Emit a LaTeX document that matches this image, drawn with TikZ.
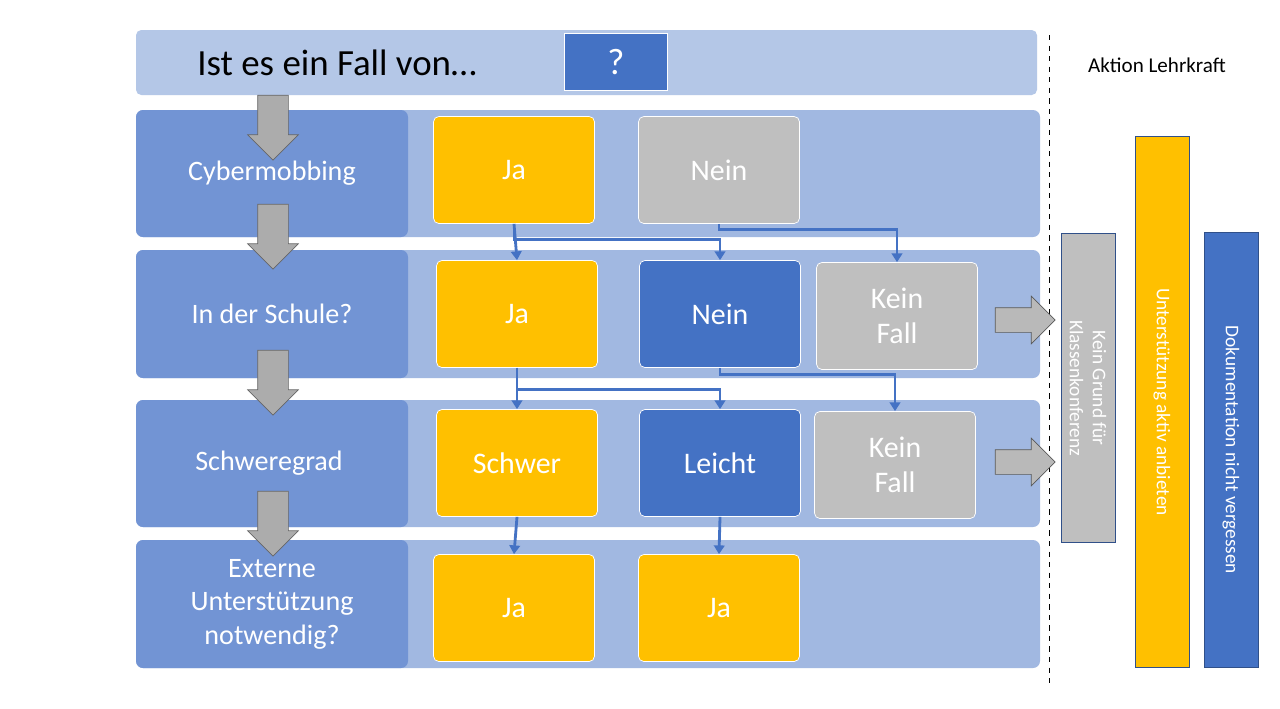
\documentclass[tikz,border=0pt]{standalone}
\usepackage{fontspec}
\setmainfont{Carlito}
\usetikzlibrary{arrows.meta,shapes.arrows}
\definecolor{topband}{HTML}{B4C7E7}
\definecolor{rowband}{HTML}{A1B8E1}
\definecolor{rowhead}{HTML}{7294D4}
\definecolor{jayellow}{HTML}{FFC000}
\definecolor{neingray}{HTML}{BFBFBF}
\definecolor{neinblue}{HTML}{4472C4}
\tikzset{
  choice/.style={draw=white, rounded corners=3pt, minimum width=3.22cm, minimum height=2.14cm,
    text=white, font=\fontsize{17}{20}\selectfont, align=center},
  rowlabel/.style={text=white, align=center, font=\fontsize{16}{19}\selectfont},
  link/.style={draw=neinblue, line width=1.6pt, -{Triangle[length=5pt,width=6pt]}},
  downarrow/.style={single arrow, shape border rotate=270, fill=gray!65, draw=gray!80!black,
    minimum height=1.3cm, minimum width=1cm, inner sep=0.3cm, single arrow head extend=0.2cm},
  rightarrow/.style={single arrow, fill=gray!55, draw=gray!70!black,
    minimum height=1.2cm, minimum width=0.95cm, inner sep=0.24cm, single arrow head extend=0.23cm},
  action/.style={draw=neinblue!70!black, minimum height=1.08cm, text=white, rotate=-90,
    font=\fontsize{11}{13}\selectfont, align=center}
}
\begin{document}
\begin{tikzpicture}[x=0.02cm, y=-0.02cm]
  \useasboundingbox (0,0) rectangle (1280,708);
  \fill[white] (0,0) rectangle (1280,708);
  % Kopfzeile
  \fill[topband, rounded corners=3pt] (136,30) rectangle (1037,95);
  \node[font=\fontsize{21}{24}\selectfont] (frage) at (337,63) {Ist es ein Fall von\dots};
  \node[fill=neinblue, draw=white, minimum width=2.06cm, minimum height=1.14cm, text=white,
    font=\fontsize{21}{24}\selectfont] (fragezeichen) at (616,62) {?};
  \draw[dashed] (1049,35) -- (1049,688);
  \node[font=\fontsize{12}{14}\selectfont] (aktion) at (1157,65) {Aktion Lehrkraft};
  % Zeilen
  \foreach \ytop/\ybot in {110/237, 250/378, 400/527, 540/668}
  {
    \fill[rowband, rounded corners=4pt] (136,\ytop) rectangle (1040,\ybot);
    \fill[rowhead, rounded corners=4pt] (136,\ytop) rectangle (408,\ybot);
  };
  \node[rowlabel] (cyber) at (272,173) {Cybermobbing};
  \node[rowlabel] (schule) at (272,314) {In der Schule?};
  \node[rowlabel] (grad) at (269,463) {Schweregrad};
  \node[rowlabel] (extern) at (272,604) {Externe\\Unterstützung\\notwendig?};
  % Pfeile nach unten
  \foreach \y/\n in {120/1, 229/2, 375/3, 516/4}
    \node[downarrow] (pfeil\n) at (273,\y) {};
  % Entscheidungen
  \node[choice, fill=jayellow] (ja1) at (514,170) {Ja};
  \node[choice, fill=neingray] (nein1) at (719,170) {Nein};
  \node[choice, fill=jayellow] (ja2) at (517,314) {Ja};
  \node[choice, fill=neinblue] (nein2) at (720,314) {Nein};
  \node[choice, fill=neingray] (kein2) at (897,316) {Kein\\Fall};
  \node[choice, fill=jayellow] (schwer) at (517,463) {Schwer};
  \node[choice, fill=neinblue] (leicht) at (720,463) {Leicht};
  \node[choice, fill=neingray] (kein3) at (895,465) {Kein\\Fall};
  \node[choice, fill=jayellow] (ja4) at (514,608) {Ja};
  \node[choice, fill=jayellow] (ja5) at (719,608) {Ja};
  % Verbindungen
  \draw[link] (ja1.south) -- (ja2.north);
  \draw[link] (ja1.south) -- ++(0,16) -| (nein2.north);
  \draw[link] (nein1.south) -- ++(0,6) -| (kein2.north);
  \draw[link] (ja2.south) -- (schwer.north);
  \draw[link] (ja2.south) -- ++(0,22) -| (leicht.north);
  \draw[link] (nein2.south) -- ++(0,7) -| (kein3.north);
  \draw[link] (schwer.south) -- (ja4.north);
  \draw[link] (leicht.south) -- (ja5.north);
  % Aktionen
  \node[rightarrow] (weiter2) at (1019,320) {};
  \node[rightarrow] (weiter3) at (1019,462) {};
  \node[action, fill=neingray, minimum width=6.18cm] (klasse) at (1088,388) {Kein Grund für\\Klassenkonferenz};
  \node[action, fill=jayellow, minimum width=10.62cm] (unterst) at (1162,402) {Unterstützung aktiv anbieten};
  \node[action, fill=neinblue, minimum width=8.7cm] (doku) at (1231,450) {Dokumentation nicht vergessen};
\end{tikzpicture}
\end{document}
